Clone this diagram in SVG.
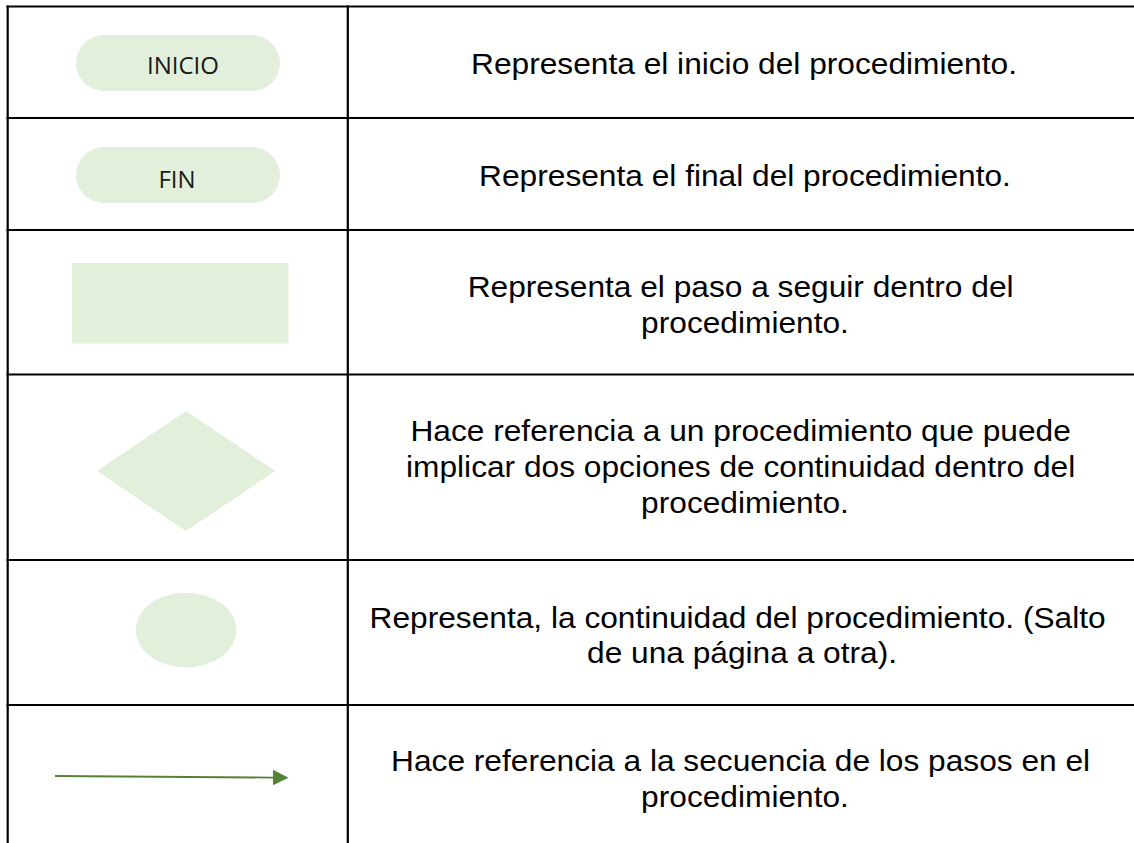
<svg xmlns="http://www.w3.org/2000/svg" width="1134" height="843" viewBox="0 0 1134 843">
  <defs>
    <style>
      .grid { stroke: #000; stroke-width: 2.2; fill: none; }
      .shape { fill: #E2EFDA; stroke: none; }
      .lbl { font-family: "Open Sans", "Noto Sans", sans-serif; font-size: 24px; fill: #1a1a1a; text-anchor: middle; }
      .desc { font-family: "Liberation Sans", Arial, sans-serif; font-size: 29px; fill: #000; text-anchor: middle; }
      .conn { stroke: #548235; stroke-width: 1.8; fill: none; }
    </style>
    <marker id="arrowHead" markerUnits="userSpaceOnUse" markerWidth="16" markerHeight="16" refX="0" refY="7.8" orient="auto">
      <path d="M0,0 L15.5,7.8 L0,15.6 Z" fill="#548235"/>
    </marker>
  </defs>
  <rect x="0" y="0" width="1134" height="843" fill="#ffffff"/>

  <g id="table-grid">
    <line class="grid" x1="6.6" y1="6.5" x2="1134" y2="6.5"/>
    <line class="grid" x1="6.6" y1="118" x2="1134" y2="118"/>
    <line class="grid" x1="6.6" y1="230" x2="1134" y2="230"/>
    <line class="grid" x1="6.6" y1="374.5" x2="1134" y2="374.5"/>
    <line class="grid" x1="6.6" y1="560" x2="1134" y2="560"/>
    <line class="grid" x1="6.6" y1="705" x2="1134" y2="705"/>
    <line class="grid" x1="7.7" y1="5.4" x2="7.7" y2="843"/>
    <line class="grid" x1="347.8" y1="5.4" x2="347.8" y2="843"/>
  </g>

  <g id="node-inicio">
    <rect class="shape" x="76" y="35" width="204" height="56" rx="28" ry="28"/>
    <text class="lbl" x="183" y="74">INICIO</text>
  </g>
  <g id="desc-inicio">
    <text class="desc" transform="translate(744 0) scale(1.093 1)" x="0" y="74">Representa el inicio del procedimiento.</text>
  </g>

  <g id="node-fin">
    <rect class="shape" x="76" y="147" width="204" height="56" rx="28" ry="28"/>
    <text class="lbl" x="177" y="188">FIN</text>
  </g>
  <g id="desc-fin">
    <text class="desc" transform="translate(745 0) scale(1.093 1)" x="0" y="186">Representa el final del procedimiento.</text>
  </g>

  <g id="node-paso">
    <rect class="shape" x="72" y="263" width="216.5" height="80.5"/>
  </g>
  <g id="desc-paso">
    <text class="desc" transform="translate(745 0) scale(1.093 1)">
      <tspan x="0" y="297">Representa el paso a seguir dentro del</tspan>
      <tspan x="0" y="333">procedimiento.</tspan>
    </text>
  </g>

  <g id="node-decision">
    <polygon class="shape" points="186,411 275.3,471 186,531 97,471"/>
  </g>
  <g id="desc-decision">
    <text class="desc" transform="translate(745 0) scale(1.093 1)">
      <tspan x="0" y="441">Hace referencia a un procedimiento que puede</tspan>
      <tspan x="0" y="477">implicar dos opciones de continuidad dentro del</tspan>
      <tspan x="0" y="513">procedimiento.</tspan>
    </text>
  </g>

  <g id="node-conector">
    <ellipse class="shape" cx="186" cy="630" rx="50.3" ry="37.3"/>
  </g>
  <g id="desc-conector">
    <text class="desc" transform="translate(742 0) scale(1.093 1)">
      <tspan x="0" y="628">Representa, la continuidad del procedimiento. (Salto</tspan>
      <tspan x="0" y="663">de una página a otra).</tspan>
    </text>
  </g>

  <g id="connectors">
    <line class="conn" x1="55" y1="776" x2="273" y2="777.6" marker-end="url(#arrowHead)"/>
  </g>
  <g id="desc-flecha">
    <text class="desc" transform="translate(745 0) scale(1.093 1)">
      <tspan x="0" y="771">Hace referencia a la secuencia de los pasos en el</tspan>
      <tspan x="0" y="807">procedimiento.</tspan>
    </text>
  </g>
</svg>
